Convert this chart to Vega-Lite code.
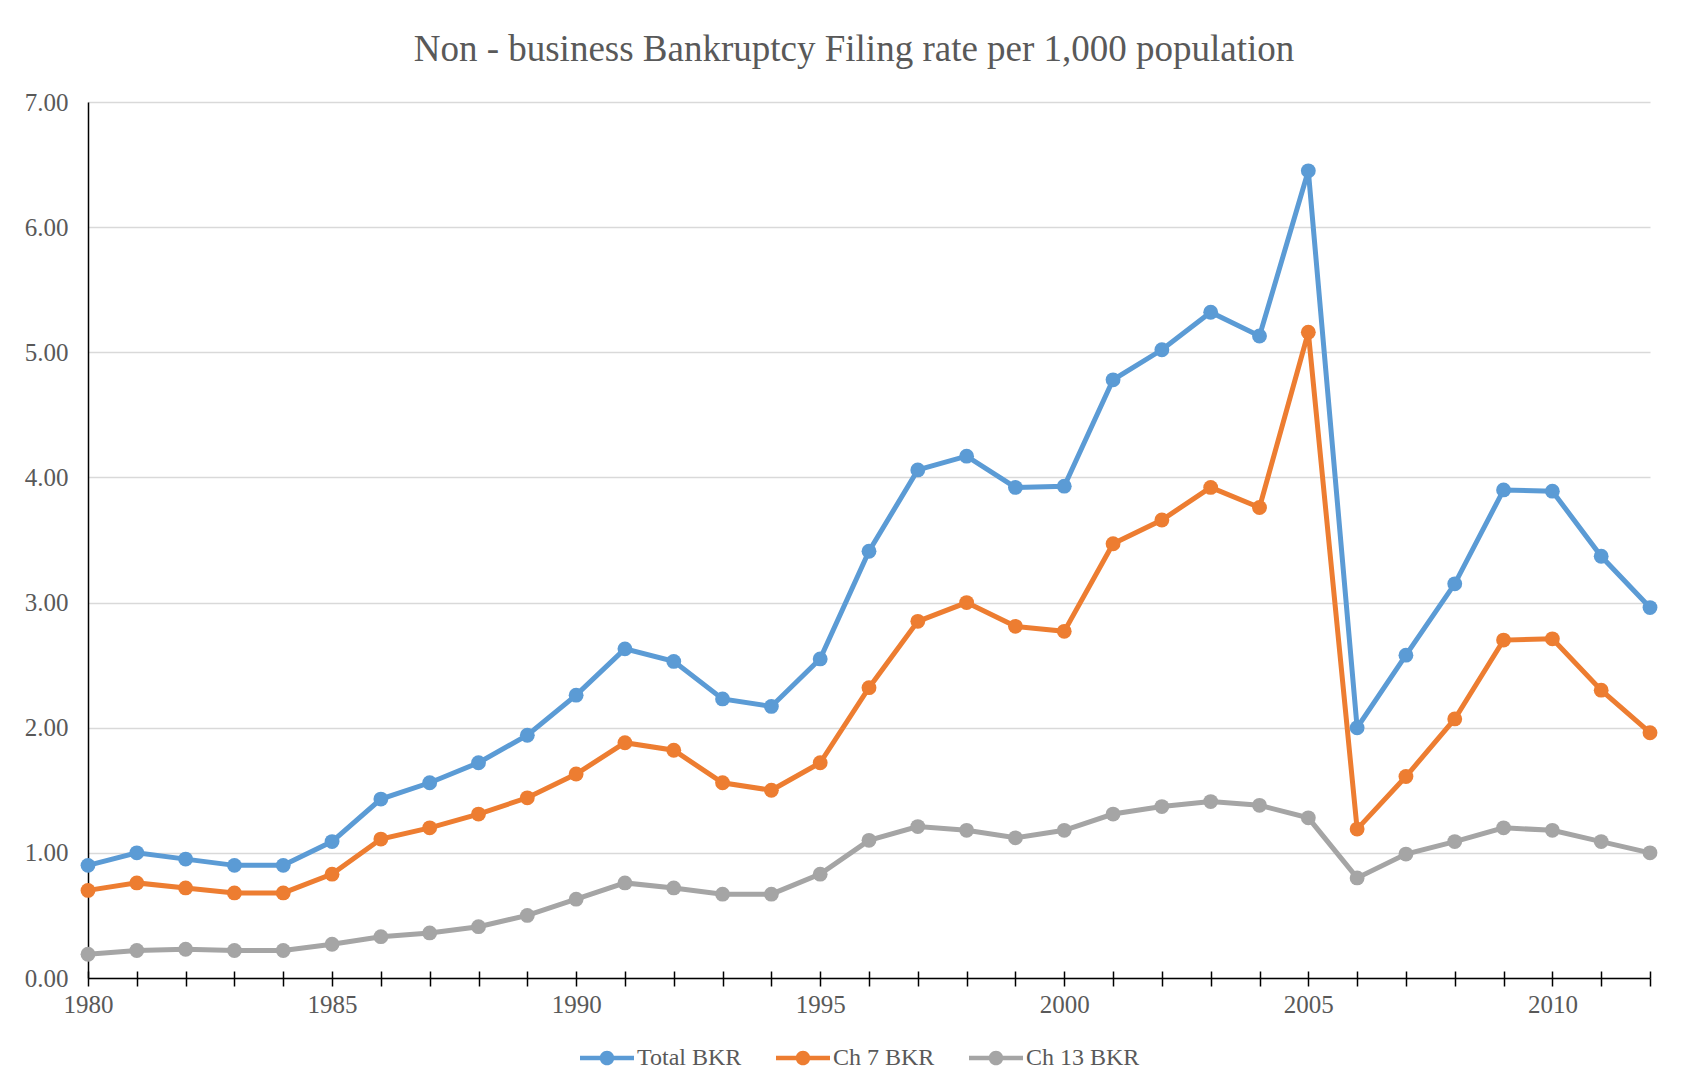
{
  "$schema": "https://vega.github.io/schema/vega-lite/v6.json",
  "width": 1562,
  "height": 876,
  "autosize": {"type": "none"},
  "padding": {"left": 88, "top": 102, "right": 44, "bottom": 111},
  "background": "white",
  "title": {
    "text": "Non - business Bankruptcy Filing rate per 1,000 population",
    "font": "Liberation Serif",
    "fontSize": 37,
    "fontWeight": "normal",
    "color": "#595959",
    "offset": 21,
    "dx": -15
  },
  "config": {
    "view": {"stroke": null},
    "axis": {"labelFont": "Liberation Serif", "labelColor": "#595959", "titleFont": "Liberation Serif"},
    "legend": {"labelFont": "Liberation Serif"}
  },
  "data": {
    "values": [
      {"year": 1980, "series": "Total BKR", "rate": 0.90},
      {"year": 1981, "series": "Total BKR", "rate": 1.00},
      {"year": 1982, "series": "Total BKR", "rate": 0.95},
      {"year": 1983, "series": "Total BKR", "rate": 0.90},
      {"year": 1984, "series": "Total BKR", "rate": 0.90},
      {"year": 1985, "series": "Total BKR", "rate": 1.09},
      {"year": 1986, "series": "Total BKR", "rate": 1.43},
      {"year": 1987, "series": "Total BKR", "rate": 1.56},
      {"year": 1988, "series": "Total BKR", "rate": 1.72},
      {"year": 1989, "series": "Total BKR", "rate": 1.94},
      {"year": 1990, "series": "Total BKR", "rate": 2.26},
      {"year": 1991, "series": "Total BKR", "rate": 2.63},
      {"year": 1992, "series": "Total BKR", "rate": 2.53},
      {"year": 1993, "series": "Total BKR", "rate": 2.23},
      {"year": 1994, "series": "Total BKR", "rate": 2.17},
      {"year": 1995, "series": "Total BKR", "rate": 2.55},
      {"year": 1996, "series": "Total BKR", "rate": 3.41},
      {"year": 1997, "series": "Total BKR", "rate": 4.06},
      {"year": 1998, "series": "Total BKR", "rate": 4.17},
      {"year": 1999, "series": "Total BKR", "rate": 3.92},
      {"year": 2000, "series": "Total BKR", "rate": 3.93},
      {"year": 2001, "series": "Total BKR", "rate": 4.78},
      {"year": 2002, "series": "Total BKR", "rate": 5.02},
      {"year": 2003, "series": "Total BKR", "rate": 5.32},
      {"year": 2004, "series": "Total BKR", "rate": 5.13},
      {"year": 2005, "series": "Total BKR", "rate": 6.45},
      {"year": 2006, "series": "Total BKR", "rate": 2.00},
      {"year": 2007, "series": "Total BKR", "rate": 2.58},
      {"year": 2008, "series": "Total BKR", "rate": 3.15},
      {"year": 2009, "series": "Total BKR", "rate": 3.90},
      {"year": 2010, "series": "Total BKR", "rate": 3.89},
      {"year": 2011, "series": "Total BKR", "rate": 3.37},
      {"year": 2012, "series": "Total BKR", "rate": 2.96},
      {"year": 1980, "series": "Ch 7 BKR", "rate": 0.70},
      {"year": 1981, "series": "Ch 7 BKR", "rate": 0.76},
      {"year": 1982, "series": "Ch 7 BKR", "rate": 0.72},
      {"year": 1983, "series": "Ch 7 BKR", "rate": 0.68},
      {"year": 1984, "series": "Ch 7 BKR", "rate": 0.68},
      {"year": 1985, "series": "Ch 7 BKR", "rate": 0.83},
      {"year": 1986, "series": "Ch 7 BKR", "rate": 1.11},
      {"year": 1987, "series": "Ch 7 BKR", "rate": 1.20},
      {"year": 1988, "series": "Ch 7 BKR", "rate": 1.31},
      {"year": 1989, "series": "Ch 7 BKR", "rate": 1.44},
      {"year": 1990, "series": "Ch 7 BKR", "rate": 1.63},
      {"year": 1991, "series": "Ch 7 BKR", "rate": 1.88},
      {"year": 1992, "series": "Ch 7 BKR", "rate": 1.82},
      {"year": 1993, "series": "Ch 7 BKR", "rate": 1.56},
      {"year": 1994, "series": "Ch 7 BKR", "rate": 1.50},
      {"year": 1995, "series": "Ch 7 BKR", "rate": 1.72},
      {"year": 1996, "series": "Ch 7 BKR", "rate": 2.32},
      {"year": 1997, "series": "Ch 7 BKR", "rate": 2.85},
      {"year": 1998, "series": "Ch 7 BKR", "rate": 3.00},
      {"year": 1999, "series": "Ch 7 BKR", "rate": 2.81},
      {"year": 2000, "series": "Ch 7 BKR", "rate": 2.77},
      {"year": 2001, "series": "Ch 7 BKR", "rate": 3.47},
      {"year": 2002, "series": "Ch 7 BKR", "rate": 3.66},
      {"year": 2003, "series": "Ch 7 BKR", "rate": 3.92},
      {"year": 2004, "series": "Ch 7 BKR", "rate": 3.76},
      {"year": 2005, "series": "Ch 7 BKR", "rate": 5.16},
      {"year": 2006, "series": "Ch 7 BKR", "rate": 1.19},
      {"year": 2007, "series": "Ch 7 BKR", "rate": 1.61},
      {"year": 2008, "series": "Ch 7 BKR", "rate": 2.07},
      {"year": 2009, "series": "Ch 7 BKR", "rate": 2.70},
      {"year": 2010, "series": "Ch 7 BKR", "rate": 2.71},
      {"year": 2011, "series": "Ch 7 BKR", "rate": 2.30},
      {"year": 2012, "series": "Ch 7 BKR", "rate": 1.96},
      {"year": 1980, "series": "Ch 13 BKR", "rate": 0.19},
      {"year": 1981, "series": "Ch 13 BKR", "rate": 0.22},
      {"year": 1982, "series": "Ch 13 BKR", "rate": 0.23},
      {"year": 1983, "series": "Ch 13 BKR", "rate": 0.22},
      {"year": 1984, "series": "Ch 13 BKR", "rate": 0.22},
      {"year": 1985, "series": "Ch 13 BKR", "rate": 0.27},
      {"year": 1986, "series": "Ch 13 BKR", "rate": 0.33},
      {"year": 1987, "series": "Ch 13 BKR", "rate": 0.36},
      {"year": 1988, "series": "Ch 13 BKR", "rate": 0.41},
      {"year": 1989, "series": "Ch 13 BKR", "rate": 0.50},
      {"year": 1990, "series": "Ch 13 BKR", "rate": 0.63},
      {"year": 1991, "series": "Ch 13 BKR", "rate": 0.76},
      {"year": 1992, "series": "Ch 13 BKR", "rate": 0.72},
      {"year": 1993, "series": "Ch 13 BKR", "rate": 0.67},
      {"year": 1994, "series": "Ch 13 BKR", "rate": 0.67},
      {"year": 1995, "series": "Ch 13 BKR", "rate": 0.83},
      {"year": 1996, "series": "Ch 13 BKR", "rate": 1.10},
      {"year": 1997, "series": "Ch 13 BKR", "rate": 1.21},
      {"year": 1998, "series": "Ch 13 BKR", "rate": 1.18},
      {"year": 1999, "series": "Ch 13 BKR", "rate": 1.12},
      {"year": 2000, "series": "Ch 13 BKR", "rate": 1.18},
      {"year": 2001, "series": "Ch 13 BKR", "rate": 1.31},
      {"year": 2002, "series": "Ch 13 BKR", "rate": 1.37},
      {"year": 2003, "series": "Ch 13 BKR", "rate": 1.41},
      {"year": 2004, "series": "Ch 13 BKR", "rate": 1.38},
      {"year": 2005, "series": "Ch 13 BKR", "rate": 1.28},
      {"year": 2006, "series": "Ch 13 BKR", "rate": 0.80},
      {"year": 2007, "series": "Ch 13 BKR", "rate": 0.99},
      {"year": 2008, "series": "Ch 13 BKR", "rate": 1.09},
      {"year": 2009, "series": "Ch 13 BKR", "rate": 1.20},
      {"year": 2010, "series": "Ch 13 BKR", "rate": 1.18},
      {"year": 2011, "series": "Ch 13 BKR", "rate": 1.09},
      {"year": 2012, "series": "Ch 13 BKR", "rate": 1.00}
    ]
  },
  "resolve": {"axis": {"x": "independent"}},
  "layer": [
    {
      "mark": {"type": "line", "strokeOpacity": 0},
      "encoding": {
        "x": {
          "field": "year",
          "type": "quantitative",
          "scale": {"domain": [1980, 2012], "nice": false, "zero": false},
          "axis": {
            "orient": "bottom",
            "offset": -7,
            "title": null,
            "values": [1980,1981,1982,1983,1984,1985,1986,1987,1988,1989,1990,1991,1992,1993,1994,1995,1996,1997,1998,1999,2000,2001,2002,2003,2004,2005,2006,2007,2008,2009,2010,2011,2012],
            "labels": false,
            "domain": false,
            "grid": false,
            "tickColor": "#000000",
            "tickWidth": 1.5,
            "tickSize": 7
          }
        },
        "y": {"field": "rate", "type": "quantitative"},
        "detail": {"field": "series"}
      }
    },
    {
      "mark": {
        "type": "line",
        "strokeWidth": 5,
        "point": {"filled": true, "size": 220, "opacity": 1}
      },
      "encoding": {
        "x": {
          "field": "year",
          "type": "quantitative",
          "axis": {
            "orient": "bottom",
            "title": null,
            "values": [1980,1981,1982,1983,1984,1985,1986,1987,1988,1989,1990,1991,1992,1993,1994,1995,1996,1997,1998,1999,2000,2001,2002,2003,2004,2005,2006,2007,2008,2009,2010,2011,2012],
            "labelExpr": "datum.value % 5 === 0 ? datum.value : ''",
            "format": "d",
            "grid": false,
            "domainColor": "#000000",
            "domainWidth": 1.5,
            "tickColor": "#000000",
            "tickWidth": 1.5,
            "tickSize": 8,
            "labelFontSize": 25,
            "labelPadding": 6,
            "labelOverlap": false,
            "labelFlush": false
          }
        },
        "y": {
          "field": "rate",
          "type": "quantitative",
          "scale": {"domain": [0, 7], "nice": false},
          "axis": {
            "title": null,
            "values": [0, 1, 2, 3, 4, 5, 6, 7],
            "format": ".2f",
            "ticks": false,
            "domainColor": "#000000",
            "domainWidth": 1.5,
            "gridColor": "#D9D9D9",
            "gridWidth": 1.5,
            "labelFontSize": 25,
            "labelPadding": 20
          }
        },
        "color": {
          "field": "series",
          "type": "nominal",
          "scale": {
            "domain": ["Total BKR", "Ch 7 BKR", "Ch 13 BKR"],
            "range": ["#5B9BD5", "#ED7D31", "#A5A5A5"]
          },
          "legend": {
            "title": null,
            "orient": "none",
            "legendX": 492,
            "legendY": 929,
            "direction": "horizontal",
            "symbolType": "M-1,-0.08H1V0.08H-1Z M0.27,0A0.27,0.27,0,1,1,-0.27,0A0.27,0.27,0,1,1,0.27,0Z",
            "symbolSize": 2916,
            "symbolStrokeWidth": 0,
            "labelFontSize": 24,
            "labelColor": "#595959",
            "labelOffset": 3,
            "columnPadding": 34
          }
        }
      }
    }
  ]
}
